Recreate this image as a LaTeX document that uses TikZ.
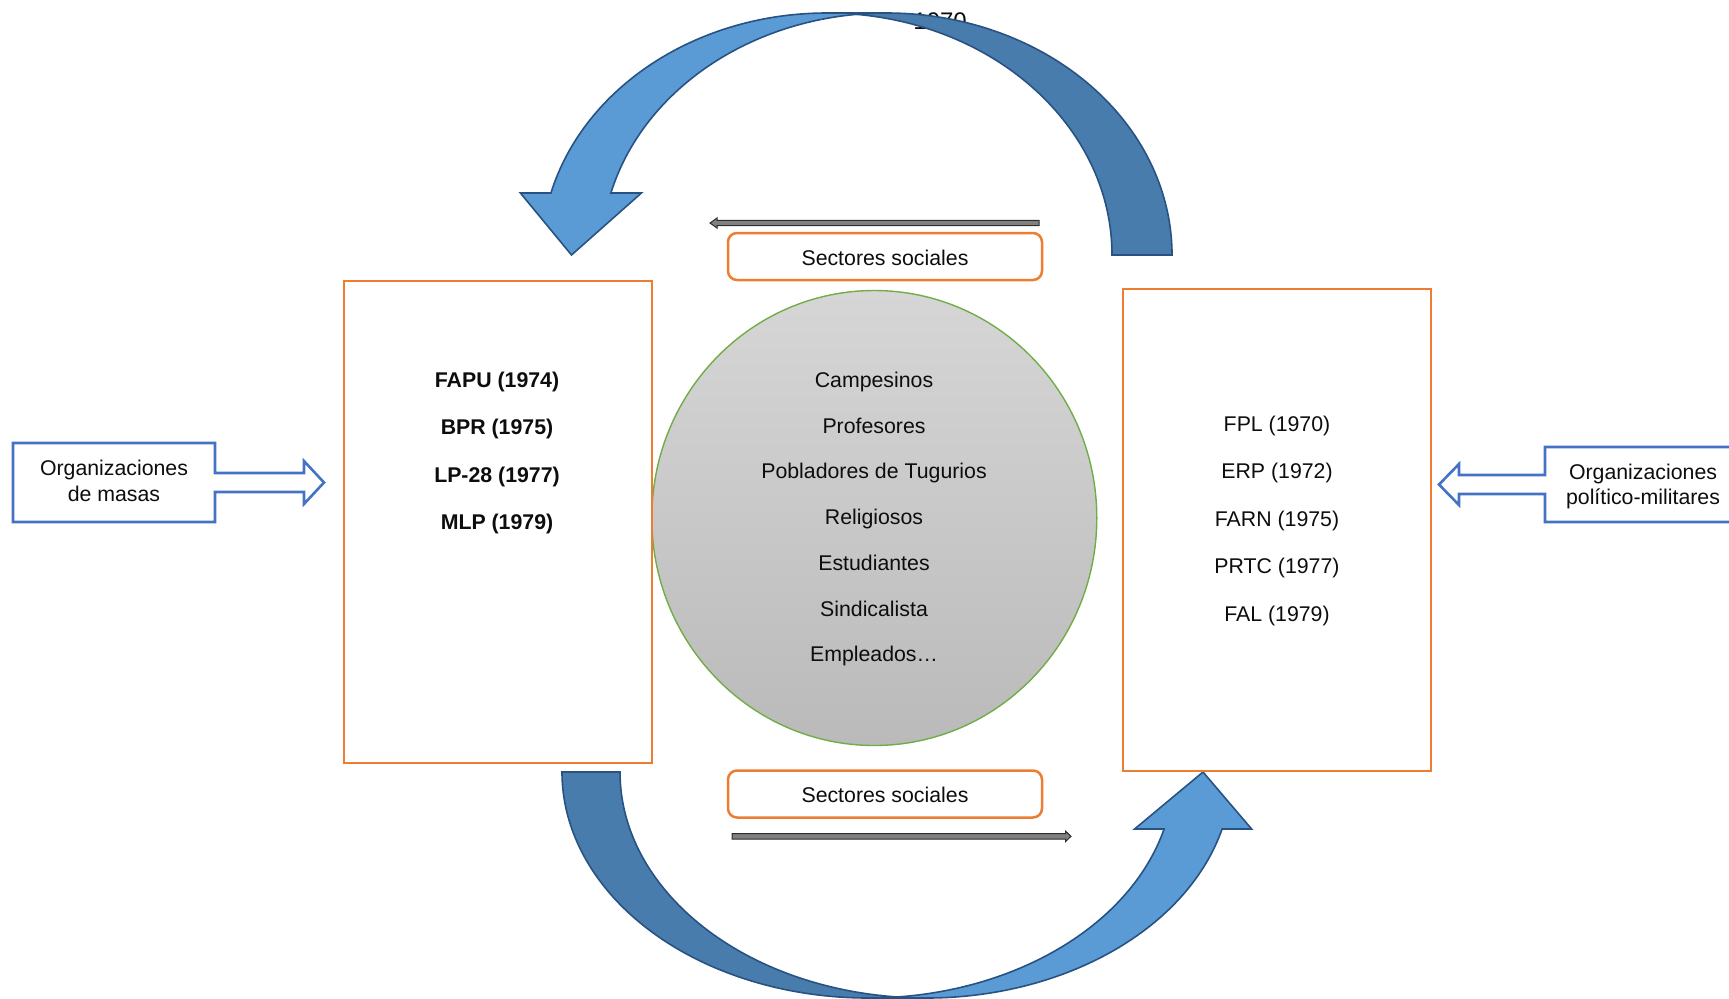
\documentclass[tikz,border=0pt]{standalone}
\usepackage{fontspec}
\setmainfont{Liberation Sans}
\usetikzlibrary{shapes.geometric}
\definecolor{orgline}{RGB}{237,125,49}
\definecolor{calblue}{RGB}{68,114,196}
\definecolor{arrlight}{RGB}{91,155,213}
\definecolor{arrdark}{RGB}{72,124,172}
\definecolor{arrline}{RGB}{40,82,130}
\definecolor{circtop}{RGB}{214,214,214}
\definecolor{circbot}{RGB}{186,186,186}
\definecolor{circline}{RGB}{112,173,71}
\definecolor{thinfill}{RGB}{128,128,128}
\definecolor{thinline}{RGB}{45,45,45}
\definecolor{txt}{RGB}{13,13,13}
\begin{document}
\begin{tikzpicture}[x=0.5pt,y=-0.5pt,
  every node/.style={font=\fontsize{10.65pt}{12.8pt}\selectfont, text=txt, inner sep=0pt},
  orgbox/.style={draw=orgline, line width=1.25pt, rectangle, minimum width=154pt, minimum height=241pt},
  secbox/.style={draw=orgline, line width=1.25pt, rectangle, rounded corners=4.5pt, minimum width=157pt, minimum height=23.5pt},
  calloutshape/.style={draw=calblue, line width=1.3pt, fill=white, line join=miter},
  bigfront/.style={fill=arrlight, draw=arrline, line width=0.8pt, line join=miter},
  bigback/.style={fill=arrdark, draw=arrline, line width=0.8pt, line join=miter},
  thinarrow/.style={fill=thinfill, draw=thinline, line width=0.5pt},
  lbl/.style={anchor=base, align=center},
  boldlbl/.style={anchor=base, font=\fontsize{10.65pt}{12.8pt}\selectfont\bfseries}]
\useasboundingbox (0,0) rectangle (1729,998);
\clip (0,0) rectangle (1729,998);

% hidden year text behind the top arrow
\node[anchor=base west, font=\fontsize{12pt}{14pt}\selectfont] (yr) at (913,29) {1970};

% ---- top curved arrow (front, light) ----
\path[bigfront] (571.5,255) -- (641.4,193) -- (610.9,193)
  arc[start angle=194.84, end angle=270, x radius=285.3, y radius=242]
  -- (826.7,13)
  arc[start angle=270, end angle=194.84, x radius=285.3, y radius=242]
  -- (520.4,193) -- cycle;
% ---- top curved arrow (back, dark) ----
\path[bigback] (856.7,14.34)
  arc[start angle=263.96, end angle=360, x radius=285.3, y radius=242]
  -- (1112,255)
  arc[start angle=360, end angle=276.04, x radius=285.3, y radius=242]
  -- cycle;

% ---- bottom curved arrow (front, light) ----
\path[bigfront] (1203,772) -- (1251.6,829) -- (1222.1,829)
  arc[start angle=14.61, end angle=90, x radius=306, y radius=226]
  -- (868,998)
  arc[start angle=90, end angle=14.61, x radius=306, y radius=226]
  -- (1134.6,829) -- cycle;
% ---- bottom curved arrow (back, dark) ----
\path[bigback] (562,772)
  arc[start angle=180, end angle=84.56, x radius=306, y radius=226]
  arc[start angle=95.44, end angle=180, x radius=306, y radius=226]
  -- cycle;

% ---- central ellipse ----
\node[ellipse, minimum width=222.5pt, minimum height=227.5pt, draw=circline, line width=0.7pt,
      top color=circtop, bottom color=circbot] (circ) at (874.3,518) {};

% ---- boxes ----
\node[orgbox] (lbox) at (498,522) {};
\node[orgbox] (rbox) at (1277,530) {};
\node[secbox] (sectop) at (885,256.5) {};
\node[secbox] (secbot) at (885,794) {};
\node[lbl] (sectoptxt) at (885,265) {Sectores sociales};
\node[lbl] (secbottxt) at (885,802.5) {Sectores sociales};

% ---- thin arrows ----
\coordinate (ta1) at (1039,223);
\coordinate (ta2) at (710,223);
\path[thinarrow] (ta1) ++(0,-2.6) -- (717,220.4) -- (717,218) -- (ta2) -- (717,228) -- (717,225.6) -- (1039,225.6) -- cycle;
\coordinate (ba1) at (732,836.3);
\coordinate (ba2) at (1071,836.3);
\path[thinarrow] (ba1) ++(0,-2.8) -- (1065.5,833.5) -- (1065.5,831) -- (ba2) -- (1065.5,841.6) -- (1065.5,839.1) -- (732,839.1) -- cycle;

% ---- left column ----
\node[boldlbl] (fapu) at (497,387) {FAPU (1974)};
\node[boldlbl] (bpr) at (497,434.5) {BPR (1975)};
\node[boldlbl] (lp) at (497,482) {LP-28 (1977)};
\node[boldlbl] (mlp) at (497,529.5) {MLP (1979)};

% ---- centre column ----
\node[lbl] (c1) at (874,387) {Campesinos};
\node[lbl] (c2) at (874,433) {Profesores};
\node[lbl] (c3) at (874,478.5) {Pobladores de Tugurios};
\node[lbl] (c4) at (874,524.5) {Religiosos};
\node[lbl] (c5) at (874,570) {Estudiantes};
\node[lbl] (c6) at (874,616) {Sindicalista};
\node[lbl] (c7) at (874,661.5) {Empleados…};

% ---- right column ----
\node[lbl] (r1) at (1277,431) {FPL (1970)};
\node[lbl] (r2) at (1277,478.5) {ERP (1972)};
\node[lbl] (r3) at (1277,526) {FARN (1975)};
\node[lbl] (r4) at (1277,573.5) {PRTC (1977)};
\node[lbl] (r5) at (1277,621) {FAL (1979)};

% ---- left callout ----
\path[calloutshape] (13,443) -- (215,443) -- (215,473) -- (304,473) -- (304,461) -- (324,482.5)
  -- (304,504) -- (304,492) -- (215,492) -- (215,522) -- (13,522) -- cycle;
\node[lbl] (lc1) at (114,475) {Organizaciones};
\node[lbl] (lc2) at (114,501) {de masas};

% ---- right callout ----
\path[calloutshape] (1745,447) -- (1545,447) -- (1545,475) -- (1459,475) -- (1459,464) -- (1439,484.5)
  -- (1459,505) -- (1459,494) -- (1545,494) -- (1545,522) -- (1745,522);
\node[lbl] (rc1) at (1643,479) {Organizaciones};
\node[lbl] (rc2) at (1643,504) {político-militares};
\end{tikzpicture}
\end{document}
